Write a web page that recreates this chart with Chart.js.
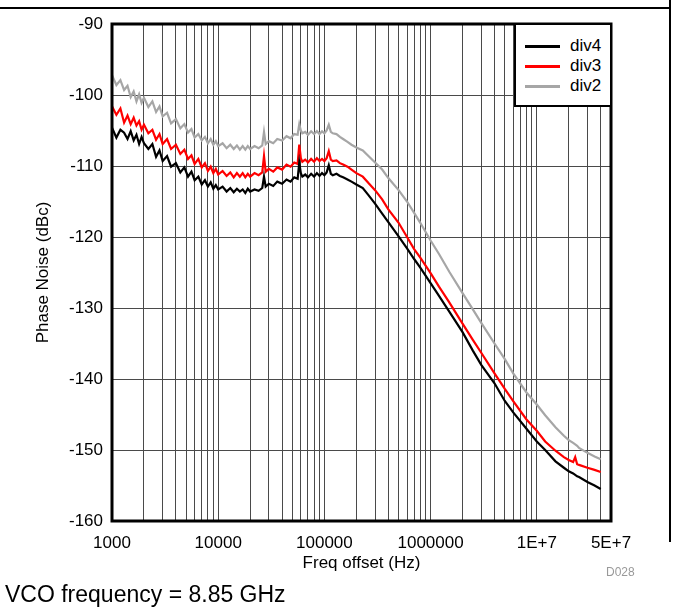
<!DOCTYPE html>
<html>
<head>
<meta charset="utf-8">
<script src="https://cdn.jsdelivr.net/npm/chart.js@4/dist/chart.umd.min.js"></script>
<style>
  body { margin: 0; background: #fff; font-family: "Liberation Sans", Arial, sans-serif; }
  #wrap { position: relative; width: 673px; height: 607px; }
  #chart { position: absolute; left: 0; top: 0; }
  .line { position: absolute; background: #000; }
  #legend { position: absolute; left: 514px; top: 23px; width: 98px; height: 84px; box-sizing: border-box;
            border: 2px solid #000; background: #fff; }
  .entry { position: absolute; left: 0; height: 20px; font-size: 17px; line-height: 20px; }
  .entry span.swatch { position: absolute; left: 9px; top: 9px; width: 35px; height: 3px; }
  .entry span.label { position: absolute; left: 54px; top: 0; white-space: nowrap; }
  #note { position: absolute; left: 5px; top: 581px; font-size: 23px; line-height: 26px; white-space: nowrap; }
  #code { position: absolute; left: 606px; top: 565px; font-size: 12px; line-height: 14px; color: #999; }
</style>
</head>
<body>
<div id="wrap">
  <canvas id="chart" width="673" height="607"></canvas>
  <div class="line" style="left:0;top:7px;width:671px;height:2px;"></div>
  <div class="line" style="left:669px;top:0;width:2px;height:542px;"></div>
  <div id="legend"></div>
  <div id="note">VCO frequency = 8.85 GHz</div>
  <div id="code">D028</div>
</div>
<script>
window.addEventListener("load", init);

// frequency offset (Hz)
const freqs = [
  1000, 1100, 1200, 1300, 1400, 1500, 1600, 1700, 1800, 1900,
  2000, 2200, 2400, 2600, 2800, 3000, 3300, 3600, 4000, 4400,
  4800, 5200, 5600, 6000, 6500, 7000, 7500, 8000, 8500, 9000,
  9500, 10000, 11000, 12000, 13000, 14000, 15000, 16000, 17000, 18000,
  19000, 20000, 22000, 24000, 26000, 27000, 28000, 30000, 33000, 36000,
  40000, 44000, 48000, 52000, 56000, 58000, 60000, 62000, 66000, 70000,
  75000, 80000, 85000, 90000, 95000, 100000, 105000, 110000, 115000, 120000,
  130000, 140000, 150000, 165000, 180000, 200000,
  230000, 260000, 300000, 350000, 400000, 500000, 600000, 700000, 800000, 1000000,
  1200000, 1500000, 2000000, 2500000, 3000000, 4000000, 5000000, 6000000, 8000000, 10000000,
  12000000, 15000000, 18000000, 20000000, 22000000, 23000000, 24000000, 25000000, 30000000, 35000000,
  40000000
];

// phase noise (dBc)
const div4 = [
  -104.6, -106.0, -104.9, -105.3, -106.2, -105.1, -106.4, -105.6, -106.9, -105.9,
  -106.8, -107.6, -106.9, -108.7, -107.8, -109.3, -108.6, -110.1, -109.6, -110.9,
  -110.2, -111.5, -110.8, -112.0, -111.5, -112.6, -112.0, -112.9, -112.3, -113.2,
  -112.7, -113.3, -112.9, -113.6, -113.1, -113.7, -113.2, -113.6, -113.3, -113.8,
  -113.2, -113.6, -113.3, -113.5, -113.1, -111.5, -112.9, -112.5, -112.8, -112.2,
  -112.5, -111.9, -112.2, -111.6, -111.8, -109.5, -111.0, -111.5, -111.2, -111.6,
  -111.1, -111.5, -111.0, -111.4, -111.0, -111.3, -110.9, -109.9, -111.1, -111.3,
  -111.1, -111.4, -111.6, -111.9, -112.2, -112.6,
  -113.1, -114.1, -115.3, -116.7, -117.9, -119.9, -121.6, -123.1, -124.3, -126.5,
  -128.3, -130.5, -133.4, -136.0, -138.0, -140.6, -143.1, -144.7, -147.0, -148.8,
  -150.0, -151.6, -152.5, -153.0, -153.3, -153.5, -153.7, -153.8, -154.5, -155.0,
  -155.5
];
const div3 = [
  -101.6, -102.8, -101.9, -103.9, -102.9, -104.1, -103.2, -104.3, -103.7, -104.9,
  -104.2, -105.4, -104.9, -106.3, -105.5, -106.9, -106.2, -107.6, -107.0, -108.3,
  -107.7, -109.0, -108.5, -109.7, -109.0, -110.2, -109.6, -110.7, -110.1, -111.0,
  -110.4, -111.2, -110.7, -111.4, -110.9, -111.6, -111.0, -111.5, -111.0, -111.6,
  -111.1, -111.5, -111.0, -111.3, -110.9, -108.6, -110.8, -110.4, -110.8, -110.2,
  -110.5, -109.8, -110.1, -109.5, -109.7, -107.0, -108.9, -109.4, -109.1, -109.5,
  -109.0, -109.4, -108.9, -109.3, -109.0, -109.3, -108.9, -107.9, -109.1, -109.3,
  -109.2, -109.6, -109.8, -110.1, -110.5, -111.0,
  -111.5, -112.4, -113.4, -114.7, -116.1, -118.0, -120.0, -121.7, -122.9, -125.1,
  -127.0, -129.2, -132.2, -134.5, -136.3, -139.2, -141.4, -143.1, -145.7, -147.3,
  -148.8, -150.1, -151.0, -151.4, -151.7, -151.0, -152.0, -152.1, -152.5, -152.8,
  -153.1
];
const div2 = [
  -97.2, -98.6, -97.9, -99.3, -98.7, -100.3, -99.5, -100.9, -99.9, -101.1,
  -100.4, -101.7, -100.9, -102.4, -101.6, -103.0, -102.5, -104.0, -103.4, -104.7,
  -104.1, -105.3, -104.8, -106.0, -105.5, -106.4, -105.9, -106.8, -106.2, -107.0,
  -106.5, -107.2, -106.8, -107.5, -107.0, -107.6, -107.1, -107.7, -107.2, -107.7,
  -107.2, -107.6, -107.2, -107.5, -107.1, -105.2, -106.9, -106.5, -106.8, -106.2,
  -106.4, -105.8, -106.1, -105.5, -105.6, -104.1, -105.0, -105.4, -105.2, -105.6,
  -105.1, -105.5, -105.1, -105.5, -105.1, -105.4, -105.0, -104.2, -105.2, -105.4,
  -105.5, -105.9, -106.2, -106.6, -107.0, -107.4,
  -107.8, -108.6, -109.5, -110.5, -111.7, -113.4, -115.0, -116.6, -118.0, -120.5,
  -122.4, -124.9, -127.9, -130.2, -132.1, -135.0, -137.2, -139.2, -141.9, -143.6,
  -145.1, -146.8, -148.0, -148.6, -149.0, -149.2, -149.4, -149.7, -150.4, -150.9,
  -151.3
];

const seriesNames = ["div4", "div3", "div2"];
const seriesColors = ["#000000", "#ff0000", "#a6a6a6"];

// gridlines on the log axis and the labelled ones
const xGrid = [
  1000, 2000, 3000, 4000, 5000, 6000, 7000, 8000, 9000,
  10000, 20000, 30000, 40000, 50000, 60000, 70000, 80000, 90000,
  100000, 200000, 300000, 400000, 500000, 600000, 700000, 800000, 900000,
  1000000, 2000000, 3000000, 4000000, 5000000, 6000000, 7000000, 8000000, 9000000,
  10000000, 20000000, 30000000, 40000000, 50000000
];
const xLabelValues = [1000, 10000, 100000, 1000000, 10000000, 50000000];
const xLabelText = ["1000", "10000", "100000", "1000000", "1E+7", "5E+7"];
const yTicks = [-90, -100, -110, -120, -130, -140, -150, -160];

const FONT = "'Liberation Sans', Arial, sans-serif";

function init(){
  buildLegend();
  drawChart();
}

function buildLegend(){
  let legend = document.querySelector("#legend");
  let html = "";
  seriesNames.forEach((name, i) => {
    html += `
      <div class="entry" style="top:${11 + i * 20}px;width:100%;">
        <span class="swatch" style="background:${seriesColors[i]}"></span>
        <span class="label">${name}</span>
      </div>`;
  });
  legend.innerHTML = html;
}

// thick frame round the plot area
const plotFrame = {
  id: "plotFrame",
  afterDraw(chart){
    let {ctx, chartArea: a} = chart;
    ctx.save();
    ctx.strokeStyle = "#000";
    ctx.lineWidth = 3;
    ctx.strokeRect(a.left, a.top, a.right - a.left, a.bottom - a.top);
    ctx.restore();
  }
};

function drawChart(){
  let datasets = [div4, div3, div2].map((values, i) => ({
    label: seriesNames[i],
    data: freqs.map((f, j) => ({x: f, y: values[j]})),
    borderColor: seriesColors[i],
    backgroundColor: seriesColors[i],
    borderWidth: 2.2,
    pointRadius: 0,
    tension: 0
  }));

  new Chart(document.querySelector("#chart").getContext("2d"), {
    type: "line",
    data: {datasets: datasets},
    plugins: [plotFrame],
    options: {
      responsive: false,
      animation: false,
      layout: {padding: {top: 24, right: 62, left: 0, bottom: 0}},
      plugins: {legend: {display: false}, tooltip: {enabled: false}},
      scales: {
        x: {
          type: "logarithmic",
          min: 1000,
          max: 50000000,
          afterBuildTicks: scale => { scale.ticks = xGrid.map(v => ({value: v})); },
          afterFit: scale => { scale.height = 86; },
          grid: {color: "#4a4a4a", lineWidth: 1, drawTicks: false},
          border: {display: false},
          ticks: {
            autoSkip: false,
            maxRotation: 0,
            padding: 12,
            color: "#000",
            font: {family: FONT, size: 17},
            callback: value => {
              let k = xLabelValues.indexOf(value);
              return k >= 0 ? xLabelText[k] : "";
            }
          },
          title: {
            display: true,
            text: "Freq offset (Hz)",
            color: "#000",
            font: {family: FONT, size: 17},
            padding: {top: 0, bottom: 33}
          }
        },
        y: {
          min: -160,
          max: -90,
          afterBuildTicks: scale => { scale.ticks = yTicks.map(v => ({value: v})); },
          afterFit: scale => { scale.width = 112; },
          grid: {color: "#4a4a4a", lineWidth: 1, drawTicks: false},
          border: {display: false},
          ticks: {
            padding: 9,
            color: "#000",
            font: {family: FONT, size: 17}
          },
          title: {
            display: true,
            text: "Phase Noise (dBc)",
            color: "#000",
            font: {family: FONT, size: 17},
            padding: {top: 33, bottom: 0}
          }
        }
      }
    }
  });
}
</script>
</body>
</html>
